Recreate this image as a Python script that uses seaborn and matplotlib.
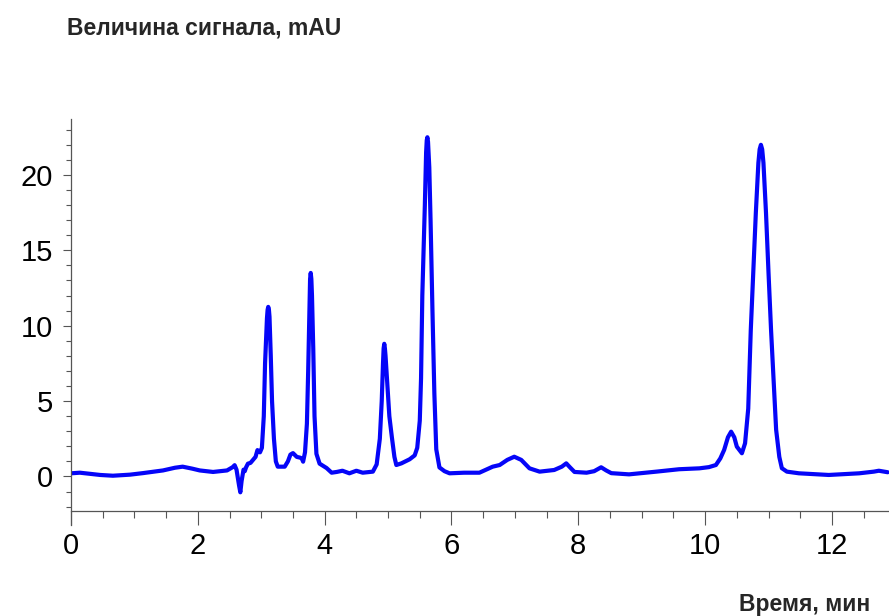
import numpy as np
import pandas as pd
import matplotlib
matplotlib.use("Agg")
import matplotlib.pyplot as plt
import seaborn as sns
from matplotlib.ticker import MultipleLocator, FixedLocator

sns.set_theme(style="ticks")
plt.rcParams['font.family'] = ['Liberation Sans', 'DejaVu Sans']

# chromatogram: time (min) and signal (mAU)
time_min = [
    0.00, 0.14, 0.46, 0.66, 0.93, 1.13, 1.45, 1.64, 1.76, 1.91, 2.03, 2.24,
    2.46, 2.55, 2.58, 2.61, 2.65, 2.67, 2.69, 2.72, 2.74, 2.76, 2.79, 2.83,
    2.87, 2.91, 2.94, 2.98, 3.01, 3.04, 3.06, 3.09, 3.10, 3.11, 3.12, 3.13,
    3.15, 3.17, 3.20, 3.23, 3.26, 3.37, 3.42, 3.46, 3.50, 3.56, 3.61, 3.64,
    3.66, 3.69, 3.72, 3.74, 3.76, 3.77, 3.78, 3.79, 3.80, 3.82, 3.84, 3.87,
    3.92, 4.03, 4.11, 4.19, 4.28, 4.39, 4.50, 4.60, 4.76, 4.82, 4.87, 4.90,
    4.92, 4.93, 4.94, 4.95, 4.96, 4.99, 5.02, 5.06, 5.10, 5.13, 5.21, 5.34,
    5.42, 5.46, 5.50, 5.52, 5.54, 5.58, 5.60, 5.61, 5.62, 5.63, 5.65, 5.67,
    5.70, 5.73, 5.76, 5.81, 5.89, 5.97, 6.20, 6.44, 6.65, 6.76, 6.88, 6.99,
    7.10, 7.23, 7.39, 7.62, 7.74, 7.81, 7.87, 7.94, 8.13, 8.25, 8.36, 8.44,
    8.52, 8.80, 9.23, 9.59, 9.91, 10.06, 10.17, 10.24, 10.30, 10.36, 10.41, 10.46,
    10.50, 10.58, 10.63, 10.68, 10.72, 10.77, 10.80, 10.84, 10.86, 10.88, 10.90, 10.92,
    10.96, 11.00, 11.04, 11.09, 11.12, 11.17, 11.21, 11.29, 11.48, 11.95, 12.43, 12.66,
    12.74, 12.88,
]
signal_mau = [
    0.21, 0.25, 0.10, 0.05, 0.12, 0.22, 0.40, 0.58, 0.65, 0.52, 0.40, 0.30,
    0.40, 0.62, 0.75, 0.45, -0.60, -1.05, -0.30, 0.45, 0.35, 0.60, 0.85, 0.90,
    1.10, 1.30, 1.75, 1.60, 1.90, 4.00, 7.50, 10.50, 11.05, 11.25, 11.10, 10.60,
    8.00, 5.00, 2.50, 1.00, 0.65, 0.65, 1.00, 1.45, 1.55, 1.30, 1.25, 1.20,
    0.98, 1.60, 3.50, 7.00, 11.00, 13.10, 13.50, 13.10, 12.00, 8.50, 4.00, 1.50,
    0.85, 0.56, 0.25, 0.30, 0.38, 0.21, 0.38, 0.25, 0.32, 0.80, 2.50, 5.00,
    7.50, 8.50, 8.80, 8.50, 8.00, 6.00, 4.00, 2.60, 1.30, 0.76, 0.87, 1.14,
    1.40, 1.90, 3.70, 6.50, 12.00, 18.00, 21.50, 22.30, 22.50, 22.20, 20.50, 17.00,
    11.00, 5.50, 1.80, 0.60, 0.35, 0.21, 0.25, 0.25, 0.65, 0.76, 1.10, 1.31,
    1.10, 0.54, 0.32, 0.43, 0.65, 0.87, 0.60, 0.30, 0.25, 0.35, 0.61, 0.40,
    0.22, 0.14, 0.32, 0.48, 0.54, 0.62, 0.76, 1.20, 1.76, 2.60, 2.97, 2.60,
    1.98, 1.54, 2.20, 4.50, 9.70, 14.50, 17.50, 20.80, 21.70, 22.00, 21.70, 20.80,
    17.50, 13.50, 9.70, 5.50, 3.10, 1.30, 0.55, 0.32, 0.21, 0.10, 0.21, 0.32,
    0.38, 0.28,
]

df = pd.DataFrame({"t": time_min, "s": signal_mau})

fig = plt.figure(figsize=(8.89, 6.16), dpi=100)
ax = fig.add_axes([0.0799, 0.1477, 0.9201, 0.6591])

sns.lineplot(data=df, x="t", y="s", ax=ax, color="#0505f8", lw=3.0,
             sort=False, estimator=None)

ax.set_xlim(0, 12.9)
ax.set_ylim(-3.22, 23.71)

ax.spines['top'].set_visible(False)
ax.spines['right'].set_visible(False)
ax.spines['bottom'].set_position(('data', -2.28))
for sp in ('left', 'bottom'):
    ax.spines[sp].set_color('#555555')
    ax.spines[sp].set_linewidth(0.9)

ax.xaxis.set_major_locator(MultipleLocator(2))
ax.xaxis.set_minor_locator(MultipleLocator(0.5))
ax.yaxis.set_major_locator(FixedLocator([0, 5, 10, 15, 20]))
ax.yaxis.set_minor_locator(FixedLocator(np.arange(-2, 24, 1)))

ax.tick_params(axis='x', which='major', direction='out', length=10, width=0.8,
               color='#555555', labelsize=21, pad=5, labelcolor='black')
ax.tick_params(axis='x', which='minor', direction='out', length=5, width=0.8,
               color='#555555')
ax.tick_params(axis='y', which='major', direction='out', length=6, width=0.8,
               color='#555555', labelsize=21, pad=7, labelcolor='black')
ax.tick_params(axis='y', which='minor', direction='out', length=3.5, width=0.8,
               color='#555555')

ax.set_xlabel("")
ax.set_ylabel("")

fig.text(0.075, 0.955, "Величина сигнала, mAU", fontsize=16.5, fontweight='bold',
         ha='left', va='center')
fig.text(0.979, 0.019, "Время, мин", fontsize=16.5, fontweight='bold',
         ha='right', va='center')

fig.savefig("out.png", dpi=100)
